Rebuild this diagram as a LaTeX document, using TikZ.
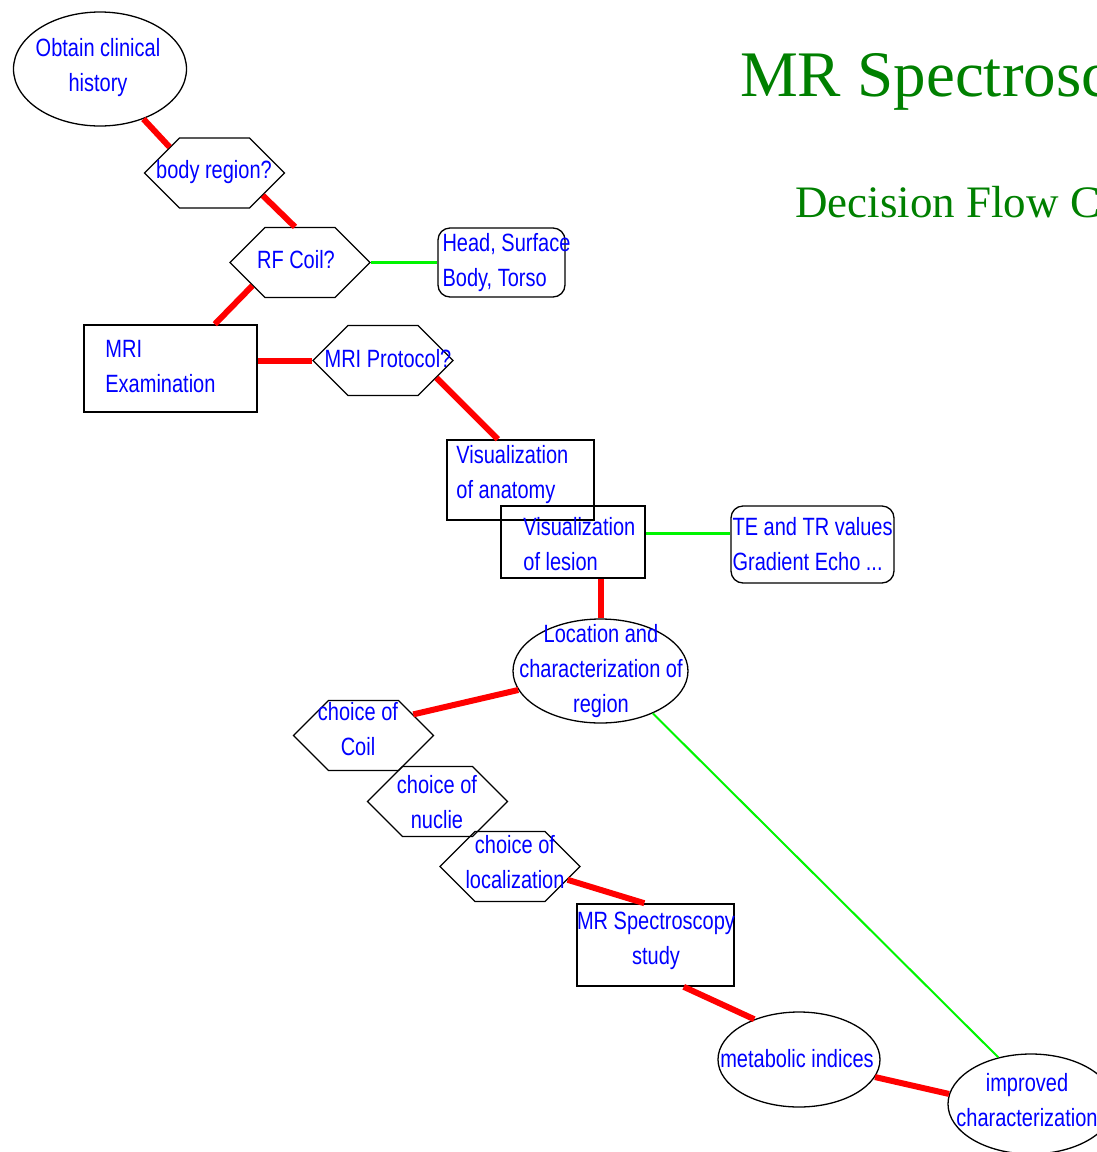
\documentclass[tikz,border=0pt]{standalone}
\usepackage{fontspec}
\setmainfont{Liberation Serif}
\newfontfamily\flowfont[FakeStretch=0.8]{Liberation Sans}
\usepackage{tikz}
\usetikzlibrary{shapes.geometric,shapes.symbols}

\definecolor{linkred}{RGB}{255,0,0}
\definecolor{linkgreen}{RGB}{0,245,0}
\definecolor{titlegreen}{RGB}{0,128,0}
\definecolor{textblue}{RGB}{0,0,255}

\tikzset{
  flowoval/.style={draw,ellipse,line width=1.3pt,inner sep=0pt},
  flowhex/.style={draw,signal,signal to=west and east,signal pointer angle=90,
    line width=1.3pt,inner sep=0pt,minimum width=140pt,minimum height=70pt},
  flowbox/.style={draw,rectangle,line width=1.6pt,inner sep=0pt},
  flowrbox/.style={draw,rectangle,rounded corners=12pt,line width=1.3pt,inner sep=0pt},
  flowtxt/.style={text=textblue,font=\flowfont\fontsize{25}{35}\selectfont,inner sep=0pt,align=center},
  lefttxt/.style={flowtxt,align=left,anchor=west},
  redlink/.style={linkred,line width=6pt},
  greenlink/.style={linkgreen,line width=3pt},
}

\begin{document}
\begin{tikzpicture}[x=1pt,y=-1pt]
  \useasboundingbox (0,0) rectangle (1097,1152);

  % heading
  \node[text=titlegreen,font=\fontsize{65}{65}\selectfont,anchor=base west,inner sep=0pt] (title) at (740,96) {MR Spectroscopy};
  \node[text=titlegreen,font=\fontsize{45}{45}\selectfont,anchor=base west,inner sep=0pt] (subtitle) at (795,217) {Decision Flow Chart};

  % shapes
  \node[flowoval,minimum width=173pt,minimum height=114pt] (history) at (100,69) {};
  \node[flowhex] (bodyq) at (214.5,173) {};
  \node[flowhex] (coilq) at (300,262.5) {};
  \node[flowrbox,minimum width=127pt,minimum height=69pt] (coilans) at (501.5,262.5) {};
  \node[flowbox,minimum width=173pt,minimum height=87pt] (mri) at (170.5,368.5) {};
  \node[flowhex] (protq) at (383,360.5) {};
  \node[flowbox,minimum width=147pt,minimum height=80pt] (anat) at (520.5,480) {};
  \node[flowbox,minimum width=144pt,minimum height=72pt] (lesion) at (573,542) {};
  \node[flowrbox,minimum width=163pt,minimum height=77pt] (teans) at (812.5,544.5) {};
  \node[flowoval,minimum width=175pt,minimum height=104pt] (loc) at (600.5,671) {};
  \node[flowhex] (choicecoil) at (363.5,735.5) {};
  \node[flowhex] (choicenuc) at (437.5,801.5) {};
  \node[flowhex] (choiceloc) at (510,866.5) {};
  \node[flowbox,minimum width=157pt,minimum height=82pt] (spectro) at (655.5,945) {};
  \node[flowoval,minimum width=162pt,minimum height=95pt] (metab) at (799,1059.5) {};
  \node[flowoval,minimum width=166pt,minimum height=100pt] (improved) at (1031,1104) {};

  % texts
  \node[flowtxt] (history-t) at (98,68) {Obtain clinical\\history};
  \node[flowtxt] (bodyq-t) at (214,172) {body region?};
  \node[flowtxt] (coilq-t) at (296,260) {RF Coil?};
  \node[lefttxt] (coilans-t) at ([xshift=5pt]coilans.west) {Head, Surface\\Body, Torso};
  \node[lefttxt] (mri-t) at ([xshift=22pt,yshift=2pt]mri.west) {MRI\\Examination};
  \node[flowtxt] (protq-t) at (388,359) {MRI Protocol?};
  \node[lefttxt] (anat-t) at ([xshift=10pt,yshift=5pt]anat.west) {Visualization\\of anatomy};
  \node[lefttxt] (lesion-t) at ([xshift=23pt,yshift=-2pt]lesion.west) {Visualization\\of lesion};
  \node[lefttxt] (teans-t) at ([xshift=2pt]teans.west) {TE and TR values\\Gradient Echo ...};
  \node[flowtxt] (loc-t) at (601,671) {Location and\\characterization of\\region};
  \node[flowtxt] (choicecoil-t) at (358,729) {choice of\\Coil};
  \node[flowtxt] (choicenuc-t) at (437,802) {choice of\\nuclie};
  \node[flowtxt] (choiceloc-t) at (515,862) {choice of\\localization};
  \node[flowtxt] (spectro-t) at (656,941) {MR Spectroscopy\\study};
  \node[flowtxt] (metab-t) at (797,1059) {metabolic indices};
  \node[flowtxt] (improved-t) at (1027,1100) {improved\\characterization};

  % red links
  \draw[redlink] (history.-49) -- (bodyq.150);
  \draw[redlink] (bodyq.-25) -- (coilq.98);
  \draw[redlink] (coilq.206) -- (mri.45);
  \draw[redlink] (protq.west) -- (protq.west -| mri.east);
  \draw[redlink] (protq.-18) -- (anat.119);
  \draw[redlink] (loc.north) -- (loc.north |- lesion.south);
  \draw[redlink] (loc.193) -- (choicecoil.23);
  \draw[redlink] (choiceloc.-13) -- (spectro.105);
  \draw[redlink] (spectro.-56) -- (metab.138);
  \draw[redlink] (metab.-13) -- (improved.173);

  % green links
  \draw[greenlink] (coilq.east) -- (coilans.west);
  \draw[greenlink] (lesion.7) -- (lesion.7 -| teans.west);
  \draw[greenlink,line width=2pt] (loc.-39) -- (improved.125);
\end{tikzpicture}
\end{document}
